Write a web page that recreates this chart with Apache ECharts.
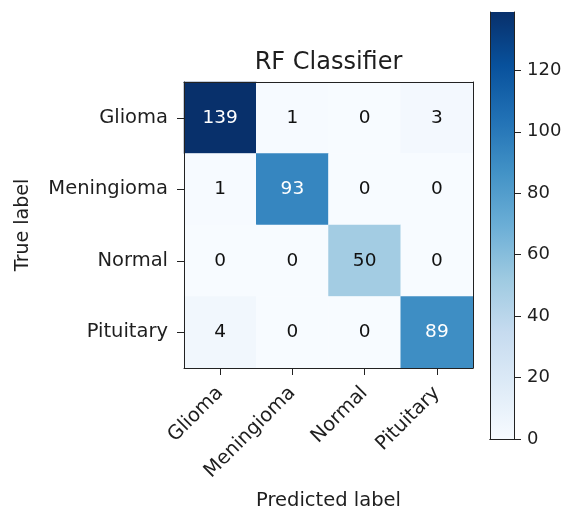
<!DOCTYPE html>
<html>
<head>
<meta charset="utf-8">
<script src="https://cdn.jsdelivr.net/npm/echarts@6/dist/echarts.min.js"></script>
<style>
  html, body { margin: 0; padding: 0; background: #fff; }
  #chart { width: 569px; height: 516px; }
</style>
</head>
<body>
<div id="chart"></div>
<script>
// Confusion matrix of the random forest classifier (rows: true, cols: predicted)
const classes = ['Glioma', 'Meningioma', 'Normal', 'Pituitary'];
const matrix = [
  [139, 1, 0, 3],
  [1, 93, 0, 0],
  [0, 0, 50, 0],
  [4, 0, 0, 89]
];
const colorbarStep = 20;

// matplotlib "Blues" colormap stops
const blues = ['#f7fbff', '#deebf7', '#c6dbef', '#9ecae1', '#6baed6',
               '#4292c6', '#2171b5', '#08519c', '#08306b'];

const vmin = 0;
const vmax = Math.max(...matrix.flat());
const thresh = vmax / 2;
const textColor = '#1e1e1e';
const font = 'DejaVu Sans';

const cells = [];
matrix.forEach((row, i) => {
  row.forEach((v, j) => {
    cells.push({
      value: [j, i, v],
      label: { color: v > thresh ? '#ffffff' : '#111111' }
    });
  });
});

const gradientStops = blues.map((c, k) => ({ offset: 1 - k / (blues.length - 1), color: c }));

const frameLine = { show: true, lineStyle: { color: '#222', width: 1 } };

const chart = echarts.init(document.getElementById('chart'), null, { renderer: 'canvas' });
chart.setOption({
  backgroundColor: '#ffffff',
  animation: false,
  textStyle: { fontFamily: font },
  grid: [
    { left: 184, top: 82, width: 289, height: 287 },
    { left: 490, top: 12, width: 24, height: 427 }
  ],
  xAxis: [
    {
      type: 'category', gridIndex: 0, data: classes, position: 'bottom', z: 10,
      axisLine: frameLine,
      axisTick: { show: true, alignWithLabel: true, length: 7, lineStyle: { color: '#222' } },
      axisLabel: { rotate: 45, fontSize: 19.5, color: textColor, margin: 22,
                   padding: [8, 0, 0, 0], fontFamily: font },
      name: 'Predicted label', nameLocation: 'middle', nameGap: 123,
      nameTextStyle: { fontSize: 19.5, color: textColor, fontFamily: font },
      splitLine: { show: false }
    },
    {
      type: 'category', gridIndex: 0, data: classes, position: 'top', z: 10,
      axisLine: frameLine, axisTick: { show: false }, axisLabel: { show: false },
      name: 'RF Classifier', nameLocation: 'middle', nameGap: 7,
      nameTextStyle: { fontSize: 24, color: textColor, fontFamily: font },
      splitLine: { show: false }
    },
    {
      type: 'category', gridIndex: 1, data: [''], position: 'bottom', z: 10,
      axisLine: frameLine, axisTick: { show: false }, axisLabel: { show: false }
    },
    {
      type: 'category', gridIndex: 1, data: [''], position: 'top', z: 10,
      axisLine: frameLine, axisTick: { show: false }, axisLabel: { show: false }
    }
  ],
  yAxis: [
    {
      type: 'category', gridIndex: 0, data: classes, inverse: true, position: 'left', z: 10,
      axisLine: frameLine,
      axisTick: { show: true, alignWithLabel: true, length: 7, lineStyle: { color: '#222' } },
      axisLabel: { fontSize: 19.5, color: textColor, margin: 16, fontFamily: font },
      name: 'True label', nameLocation: 'middle', nameGap: 151, nameRotate: 90,
      nameTextStyle: { fontSize: 19, color: textColor, fontFamily: font },
      splitLine: { show: false }
    },
    {
      type: 'category', gridIndex: 0, data: classes, inverse: true, position: 'right', z: 10,
      axisLine: frameLine, axisTick: { show: false }, axisLabel: { show: false },
      splitLine: { show: false }
    },
    {
      type: 'value', gridIndex: 1, min: vmin, max: vmax, interval: colorbarStep, position: 'right', z: 10,
      axisLine: frameLine,
      axisTick: { show: true, length: 7, lineStyle: { color: '#222' } },
      axisLabel: { fontSize: 18, color: textColor, margin: 13, fontFamily: font,
                   showMaxLabel: false },
      splitLine: { show: false }
    },
    {
      type: 'value', gridIndex: 1, min: vmin, max: vmax, position: 'left', z: 10,
      axisLine: frameLine, axisTick: { show: false }, axisLabel: { show: false },
      splitLine: { show: false }
    }
  ],
  visualMap: {
    show: false, type: 'continuous', min: vmin, max: vmax, seriesIndex: 0, dimension: 2,
    inRange: { color: blues }
  },
  series: [
    {
      type: 'heatmap', xAxisIndex: 0, yAxisIndex: 0, data: cells,
      label: { show: true, fontSize: 18.5, fontFamily: font },
      itemStyle: { borderWidth: 0 },
      emphasis: { disabled: true }
    },
    {
      type: 'bar', xAxisIndex: 2, yAxisIndex: 2, data: [vmax], barWidth: '100%',
      itemStyle: {
        color: new echarts.graphic.LinearGradient(0, 0, 0, 1, gradientStops)
      },
      silent: true
    }
  ]
});
</script>
</body>
</html>
